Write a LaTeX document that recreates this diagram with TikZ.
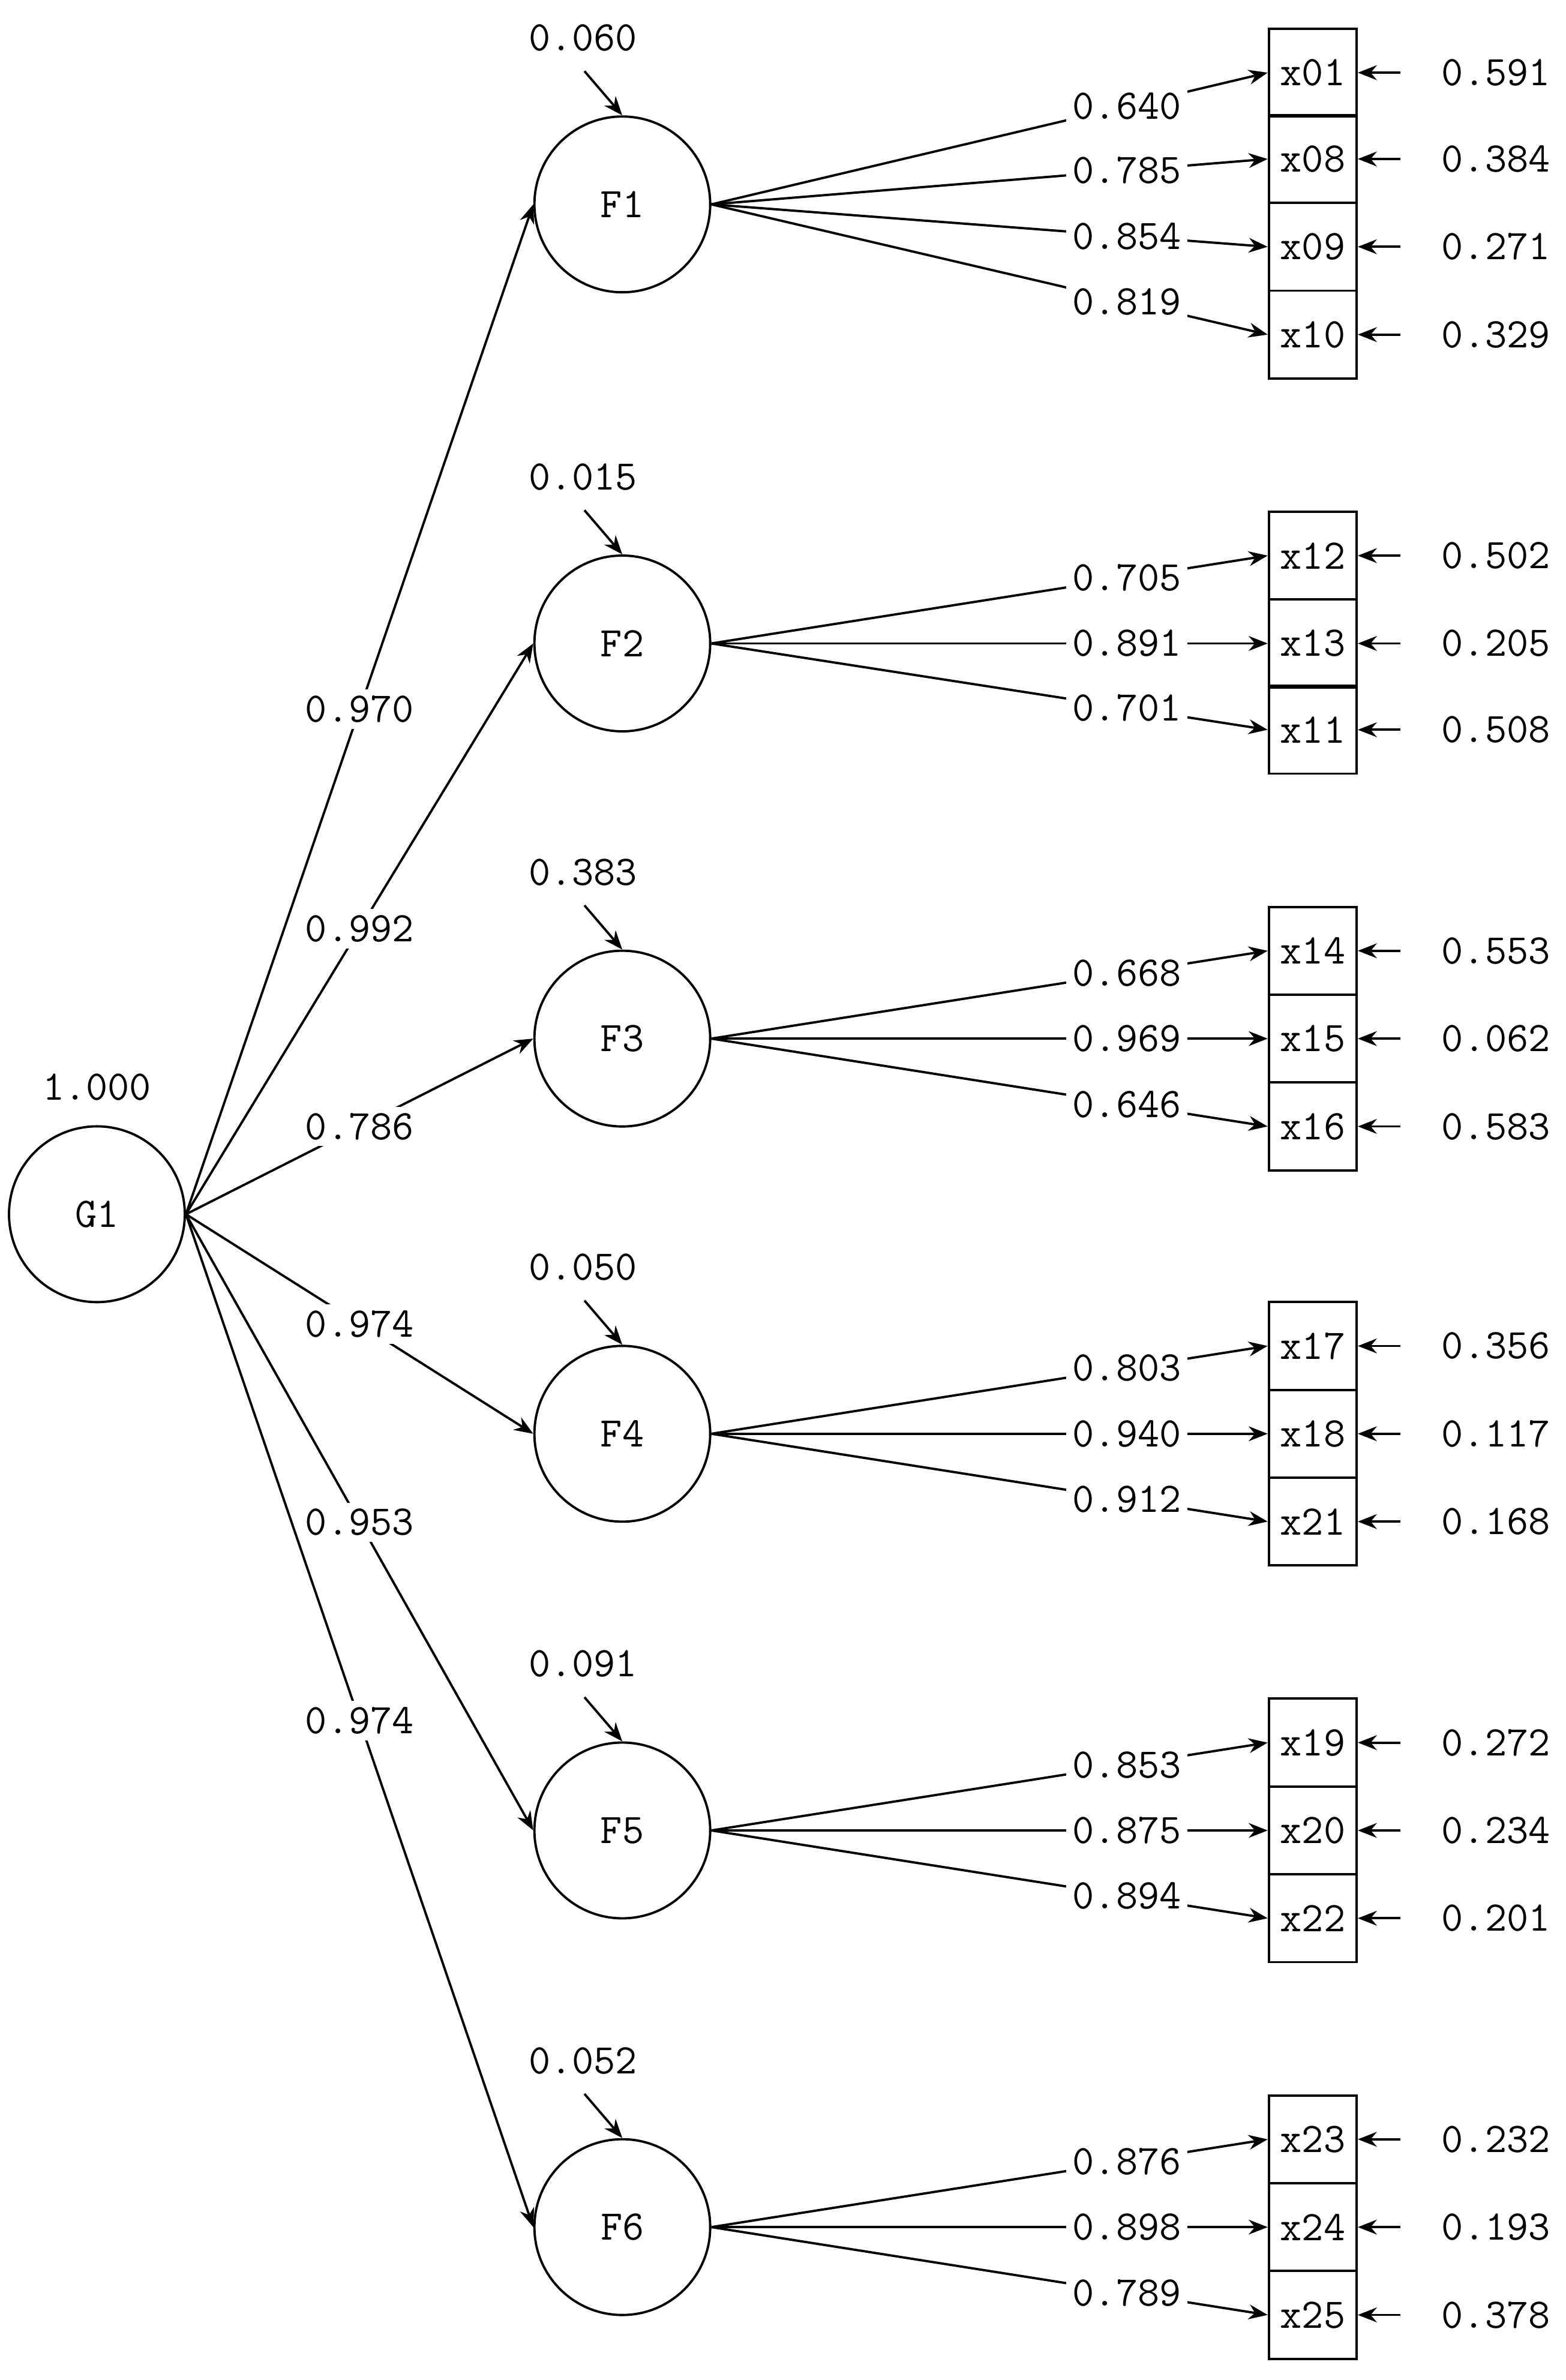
\documentclass[tikz,border=0pt]{standalone}
\usetikzlibrary{arrows.meta}
\begin{document}
\begin{tikzpicture}[x=0.02524cm,y=-0.02524cm,
  lat/.style={draw,circle,minimum size=2.93cm,inner sep=0,line width=1.1pt,font=\ttfamily\fontsize{20}{24}\selectfont},
  obs/.style={draw,rectangle,minimum width=1.464cm,minimum height=1.464cm,inner sep=0,line width=1.1pt,font=\ttfamily\fontsize{20}{24}\selectfont},
  num/.style={font=\ttfamily\fontsize{20}{24}\selectfont,inner sep=2pt},
  lab/.style={num,fill=white,inner sep=3pt},
  arr/.style={line width=1.1pt,-{Stealth[length=9pt,width=7pt]}}]
\useasboundingbox (0,0) rectangle (1034,1572);
\node[lat] (G1) at (64,802) {G1};
\node[num] at (64,718) {1.000};
\foreach \i/\y/\v/\g in {1/135/0.060/0.970,2/425/0.015/0.992,3/686/0.383/0.786,4/947/0.050/0.974,5/1209/0.091/0.953,6/1471/0.052/0.974}{
  \node[lat] (F\i) at (411,\y) {F\i};
  \node[num] (v\i) at (385,\y-110) {\v};
  \coordinate (s\i) at (386,\y-88);
  \draw[arr] (s\i) -- (F\i.north);
  \draw[arr] (G1.east) -- node[lab,pos=0.5]{\g} (F\i.west);
}
\foreach \n/\f/\y/\l/\e in {x01/1/48/0.640/0.591,x08/1/105/0.785/0.384,x09/1/163/0.854/0.271,x10/1/221/0.819/0.329,
 x12/2/367/0.705/0.502,x13/2/425/0.891/0.205,x11/2/482/0.701/0.508,
 x14/3/628/0.668/0.553,x15/3/686/0.969/0.062,x16/3/744/0.646/0.583,
 x17/4/889/0.803/0.356,x18/4/947/0.940/0.117,x21/4/1005/0.912/0.168,
 x19/5/1151/0.853/0.272,x20/5/1209/0.875/0.234,x22/5/1267/0.894/0.201,
 x23/6/1413/0.876/0.232,x24/6/1471/0.898/0.193,x25/6/1529/0.789/0.378}{
  \node[obs] (\n) at (867,\y) {\n};
  \draw[arr] (F\f.east) -- node[lab,pos=0.747]{\l} (\n.west);
  \node[num] (e\n) at (988,\y) {\e};
  \coordinate (c\n) at (925,\y);
  \draw[arr] (c\n) -- (\n.east);
}
\end{tikzpicture}
\end{document}
